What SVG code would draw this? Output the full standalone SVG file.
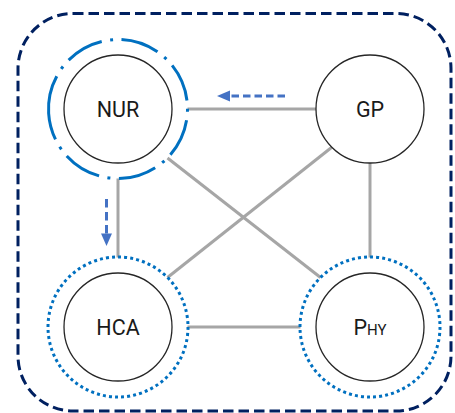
<svg xmlns="http://www.w3.org/2000/svg" width="455" height="413" viewBox="0 0 455 413">
  <style>
    .frame { fill: none; stroke: #002060; stroke-width: 3; stroke-dasharray: 10.5 5; }
    .link { fill: none; stroke: #A6A6A6; stroke-width: 3; }
    .flow { fill: none; stroke: #4472C4; stroke-width: 3; }
    .head { fill: #4472C4; }
    .node { fill: #FFFFFF; stroke: #262626; stroke-width: 1.3; }
    .ring-dot { fill: none; stroke: #0070C0; stroke-width: 3; stroke-dasharray: 3 3.1; }
    .ring-dashdot { fill: none; stroke: #0070C0; stroke-width: 3; stroke-dasharray: 38.4 8.5 3 8.5; }
    .label { font-family: Roboto, "Open Sans", "DejaVu Sans", sans-serif; font-size: 21.5px; fill: #1A1A1A; text-anchor: middle; }
    .sc { font-size: 15px; }
  </style>

  <!-- outer boundary -->
  <rect class="frame" x="18" y="13.5" width="433" height="397.5" rx="55" ry="55"/>

  <!-- connectors -->
  <g id="connectors">
    <line class="link" x1="187.5" y1="109" x2="316" y2="109"/>
    <line class="link" x1="118" y1="178.5" x2="118" y2="257.5"/>
    <line class="link" x1="370" y1="163" x2="370" y2="257.5"/>
    <line class="link" x1="187.5" y1="327" x2="300.5" y2="327"/>
    <line class="link" x1="167.5" y1="158" x2="320.5" y2="277.5"/>
    <line class="link" x1="331.8" y1="147.2" x2="167.5" y2="277.5"/>
    <!-- dashed flow arrows -->
    <line class="flow" x1="285" y1="96" x2="229" y2="96" stroke-dasharray="7.5 4"/>
    <polygon class="head" points="217,96 230,90.5 230,101.5"/>
    <line class="flow" x1="106.5" y1="199" x2="106.5" y2="235" stroke-dasharray="8.5 4.5"/>
    <polygon class="head" points="106.5,246 101,233.5 112,233.5"/>
  </g>

  <g id="nur">
    <circle class="ring-dashdot" cx="118" cy="109" r="69.5" transform="rotate(176.5 118 109)"/>
    <circle class="node" cx="118" cy="109" r="54"/>
    <text class="label" x="118" y="117">NUR</text>
  </g>

  <g id="gp">
    <circle class="node" cx="370" cy="109" r="54"/>
    <text class="label" x="370" y="117">GP</text>
  </g>

  <g id="hca">
    <circle class="ring-dot" cx="118" cy="327" r="70"/>
    <circle class="node" cx="118" cy="327" r="54"/>
    <text class="label" x="118" y="335">HCA</text>
  </g>

  <g id="phy">
    <circle class="ring-dot" cx="370" cy="327" r="70"/>
    <circle class="node" cx="370" cy="327" r="54"/>
    <text class="label" x="370" y="335">P<tspan class="sc">HY</tspan></text>
  </g>
</svg>
